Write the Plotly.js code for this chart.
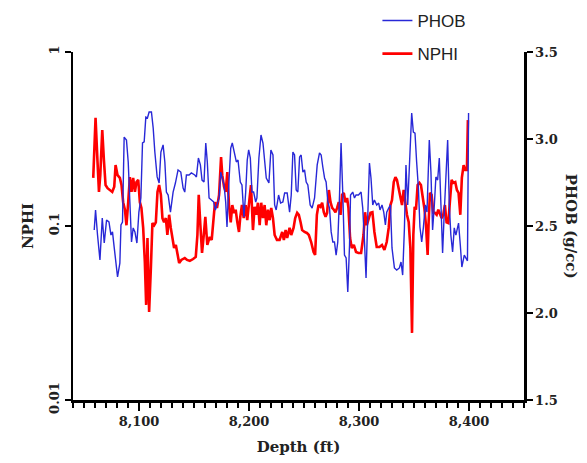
<!DOCTYPE html>
<html>
<head>
<meta charset="utf-8">
<script src="https://cdn.plot.ly/plotly-3.0.1.min.js"></script>
<style>html,body{margin:0;padding:0;background:#fff;}#chart{width:587px;height:463px;}</style>
</head>
<body>
<div id="chart"></div>
<script>
// PHOB (g/cc) series: depth (ft) and bulk density
var phobDepth = [8059.3,8060.5,8062.3,8064.5,8066.6,8068.4,8070.5,8072.7,8074.5,8075.9,8077.5,8080.5,8082.6,8083.6,8085.0,8086.5,8088.6,8090.2,8091.7,8093.2,8094.7,8096.3,8098.1,8099.9,8101.7,8103.2,8104.7,8106.2,8107.7,8109.2,8111.3,8112.9,8114.4,8116.5,8118.3,8119.9,8121.9,8123.5,8124.9,8126.5,8128.6,8131.0,8133.1,8135.5,8138.0,8140.1,8141.6,8143.1,8145.5,8147.6,8150.7,8152.2,8154.0,8155.8,8157.3,8159.1,8160.7,8162.1,8163.7,8165.8,8167.9,8169.4,8171.2,8172.8,8174.3,8175.7,8177.3,8178.8,8180.0,8181.6,8183.4,8184.8,8186.4,8188.5,8190.0,8192.1,8193.6,8195.4,8197.0,8198.4,8199.7,8201.2,8202.7,8204.2,8206.1,8207.2,8209.0,8210.9,8212.7,8214.2,8215.7,8218.1,8219.9,8221.8,8223.3,8224.7,8226.9,8228.7,8230.8,8232.4,8234.7,8236.9,8238.4,8239.9,8241.4,8242.9,8244.4,8246.0,8247.4,8249.0,8250.5,8252.0,8253.5,8255.6,8257.4,8259.6,8262.0,8264.1,8265.6,8267.1,8268.7,8270.1,8271.7,8273.2,8274.7,8276.2,8277.7,8279.2,8280.7,8282.3,8283.7,8285.3,8286.8,8288.3,8289.8,8291.4,8292.3,8294.3,8295.9,8297.3,8299.5,8301.9,8303.4,8305.0,8306.4,8308.0,8309.5,8310.9,8312.5,8314.0,8316.1,8317.9,8319.1,8320.9,8322.5,8324.0,8325.2,8327.0,8328.6,8330.0,8332.2,8334.3,8336.7,8338.2,8339.7,8341.3,8342.7,8344.3,8345.8,8347.9,8349.4,8350.9,8352.4,8354.0,8355.4,8357.0,8358.5,8360.3,8361.8,8363.9,8365.4,8366.9,8368.5,8369.9,8371.5,8373.0,8374.5,8376.0,8377.6,8379.0,8380.6,8382.1,8383.5,8385.1,8386.6,8388.1,8390.5,8392.1,8393.5,8395.7,8397.2,8398.6,8399.6];
var phobValues = [2.477,2.592,2.448,2.305,2.546,2.402,2.534,2.523,2.448,2.466,2.374,2.207,2.287,2.506,2.523,3.011,2.994,2.868,2.638,2.408,2.489,2.466,2.402,2.580,2.661,2.977,2.983,3.126,3.121,3.155,3.155,3.063,2.925,2.782,2.747,2.925,2.966,2.868,2.695,2.678,2.580,2.695,2.747,2.822,2.810,2.718,2.695,2.793,2.793,2.805,2.793,2.782,2.891,2.851,2.764,2.753,2.977,2.868,2.661,2.649,2.638,2.592,2.638,2.661,2.810,2.782,2.736,2.638,2.494,2.736,2.948,2.977,2.925,2.868,2.879,2.753,2.736,2.552,2.695,2.879,2.937,2.891,2.695,2.695,2.638,2.661,2.891,3.023,2.977,2.868,2.776,2.747,2.937,2.908,2.621,2.592,2.678,2.632,2.638,2.690,2.690,2.580,2.678,2.925,2.908,2.707,2.695,2.897,2.908,2.810,2.822,2.753,2.736,2.621,2.603,2.661,2.851,2.920,2.908,2.839,2.776,2.753,2.638,2.603,2.466,2.408,2.408,2.333,2.408,2.678,2.977,2.678,2.333,2.316,2.121,2.391,2.678,2.695,2.661,2.678,2.678,2.695,2.603,2.408,2.201,2.563,2.862,2.776,2.621,2.649,2.621,2.632,2.592,2.621,2.580,2.506,2.580,2.603,2.621,2.374,2.259,2.247,2.259,2.293,2.218,2.489,2.851,2.621,2.868,3.149,3.040,3.034,2.868,2.718,2.494,2.408,2.489,2.621,2.580,2.994,2.810,2.477,2.621,2.782,2.764,2.891,2.621,2.345,2.592,2.793,2.994,2.621,2.448,2.351,2.489,2.448,2.517,2.391,2.264,2.333,2.316,2.300,3.150];

// NPHI (fraction) series: depth (ft) and neutron porosity
var nphiDepth = [8058.4,8060.5,8062.3,8063.6,8064.8,8066.6,8068.1,8069.6,8071.4,8073.6,8075.7,8077.5,8078.7,8080.5,8082.6,8084.1,8085.6,8087.2,8088.6,8090.2,8091.7,8093.2,8094.7,8096.3,8097.7,8099.3,8100.8,8102.2,8103.8,8105.3,8106.5,8107.7,8109.2,8110.8,8112.2,8113.8,8115.3,8116.8,8118.3,8119.9,8121.3,8122.8,8124.4,8125.8,8127.4,8128.9,8130.4,8131.9,8133.5,8134.9,8136.5,8138.5,8141.6,8143.7,8146.2,8149.2,8151.6,8153.1,8154.3,8155.8,8157.3,8158.9,8160.3,8162.1,8164.3,8166.1,8167.9,8169.1,8170.9,8172.8,8174.6,8175.7,8177.3,8178.8,8180.3,8181.8,8183.4,8184.8,8186.4,8187.9,8189.4,8190.9,8192.1,8193.6,8195.2,8197.0,8198.4,8200.0,8201.8,8203.6,8205.1,8206.6,8208.1,8209.7,8211.1,8212.7,8214.2,8215.7,8217.2,8218.8,8220.2,8221.8,8223.3,8225.4,8227.8,8230.2,8231.7,8233.3,8234.7,8236.9,8238.4,8240.5,8242.0,8243.8,8245.3,8246.9,8248.3,8250.5,8252.6,8254.4,8256.5,8258.7,8260.1,8261.7,8263.2,8265.0,8266.5,8268.0,8269.6,8271.0,8272.6,8274.1,8275.6,8277.1,8278.6,8280.1,8281.6,8283.2,8284.6,8286.2,8287.7,8289.2,8290.4,8291.9,8293.4,8295.3,8297.3,8299.5,8301.9,8304.1,8305.5,8307.1,8308.6,8310.4,8312.2,8314.0,8316.1,8318.6,8320.9,8323.1,8325.2,8327.0,8328.6,8330.0,8331.6,8333.1,8334.5,8336.1,8337.6,8339.1,8340.6,8342.2,8343.6,8345.2,8346.7,8348.2,8349.4,8350.6,8351.8,8353.3,8354.9,8356.3,8357.9,8359.4,8360.9,8362.4,8363.3,8364.5,8366.0,8367.6,8369.0,8370.6,8372.1,8373.6,8375.1,8376.6,8378.1,8379.6,8381.2,8382.6,8384.2,8385.7,8387.5,8389.0,8390.5,8392.1,8393.5,8395.1,8396.6,8398.1,8399.0];
var nphiValues = [0.189,0.418,0.233,0.157,0.196,0.356,0.239,0.172,0.165,0.161,0.157,0.168,0.224,0.196,0.189,0.172,0.137,0.124,0.101,0.137,0.191,0.157,0.189,0.157,0.179,0.184,0.137,0.127,0.0975,0.0621,0.0352,0.0853,0.0321,0.0574,0.104,0.101,0.105,0.157,0.172,0.151,0.111,0.105,0.111,0.0888,0.116,0.0975,0.0853,0.0748,0.0778,0.0681,0.0613,0.0638,0.0655,0.0638,0.0630,0.0646,0.0664,0.0888,0.151,0.101,0.0700,0.0888,0.113,0.0778,0.0865,0.0832,0.116,0.137,0.127,0.151,0.249,0.196,0.168,0.157,0.204,0.132,0.105,0.132,0.119,0.124,0.105,0.0924,0.113,0.132,0.111,0.132,0.108,0.132,0.172,0.0948,0.129,0.116,0.136,0.101,0.136,0.111,0.132,0.101,0.124,0.108,0.127,0.111,0.0888,0.0832,0.0832,0.0924,0.0832,0.0948,0.0853,0.0975,0.0888,0.0975,0.111,0.119,0.116,0.105,0.0948,0.0924,0.0912,0.0888,0.0809,0.0709,0.0681,0.116,0.132,0.129,0.136,0.120,0.113,0.119,0.161,0.137,0.127,0.124,0.120,0.127,0.137,0.116,0.151,0.155,0.137,0.145,0.127,0.0853,0.0748,0.0778,0.0709,0.0700,0.0700,0.0888,0.120,0.101,0.111,0.119,0.120,0.0924,0.0757,0.0757,0.0778,0.0728,0.0809,0.0975,0.132,0.141,0.179,0.191,0.184,0.165,0.151,0.132,0.161,0.132,0.116,0.105,0.0748,0.0243,0.0888,0.129,0.124,0.172,0.177,0.172,0.151,0.127,0.101,0.0681,0.105,0.155,0.151,0.119,0.119,0.116,0.124,0.116,0.111,0.116,0.132,0.105,0.104,0.137,0.184,0.177,0.179,0.161,0.155,0.116,0.189,0.224,0.210,0.210,0.406];

// Axis tick labels
var depthTicks = [8100, 8200, 8300, 8400];
var depthTickText = ['8,100', '8,200', '8,300', '8,400'];
var nphiTicks = [0.01, 0.1, 1];
var nphiTickText = ['0.01', '0.1', '1'];
var phobTicks = [1.5, 2.0, 2.5, 3.0, 3.5];
var phobTickText = ['1.5', '2.0', '2.5', '3.0', '3.5'];

var serif = 'DejaVu Serif';
var traces = [
  {
    x: phobDepth, y: phobValues, name: 'PHOB', yaxis: 'y2', type: 'scatter', mode: 'lines',
    line: {color: 'rgb(40,40,215)', width: 1.4}, legendgroup: 'a'
  },
  {
    x: nphiDepth, y: nphiValues, name: 'NPHI', yaxis: 'y', type: 'scatter', mode: 'lines',
    line: {color: 'rgb(255,0,0)', width: 2.6}, legendgroup: 'b'
  }
];

var layout = {
  width: 587, height: 463,
  margin: {l: 73, r: 63, t: 52, b: 63, pad: 0, autoexpand: false},
  paper_bgcolor: '#fff', plot_bgcolor: '#fff',
  showlegend: true,
  legend: {
    x: 0.675, y: 1.141, xanchor: 'left', yanchor: 'top',
    font: {family: 'Liberation Sans', size: 17, color: '#222'},
    traceorder: 'grouped', tracegroupgap: 8, itemwidth: 30, bgcolor: 'rgba(0,0,0,0)'
  },
  xaxis: {
    range: [8040, 8450], tickvals: depthTicks, ticktext: depthTickText,
    showline: true, linecolor: '#000', linewidth: 2.5, mirror: false,
    ticks: 'outside', ticklen: 8, tickwidth: 2.5, tickcolor: '#000',
    minor: {dtick: 10, tick0: 8040, ticks: 'outside', ticklen: 5, tickwidth: 2, tickcolor: '#000'},
    showgrid: false, zeroline: false,
    tickfont: {family: serif, size: 13, color: '#222', weight: 'bold'},
    title: {text: 'Depth (ft)', font: {family: serif, size: 15, color: '#222', weight: 'bold'}, standoff: 14},
    automargin: false
  },
  yaxis: {
    type: 'log', range: [-2, 0], tickvals: nphiTicks, ticktext: nphiTickText, tickangle: -90,
    showline: true, linecolor: '#000', linewidth: 2.5,
    ticks: 'outside', ticklen: 6, tickwidth: 2.5, tickcolor: '#000',
    showgrid: false, zeroline: false,
    tickfont: {family: serif, size: 13, color: '#222', weight: 'bold'},
    title: {text: 'NPHI', font: {family: serif, size: 15, color: '#222', weight: 'bold'}, standoff: 10},
    automargin: false
  },
  yaxis2: {
    overlaying: 'y', side: 'right', range: [1.5, 3.5], tickvals: phobTicks, ticktext: phobTickText,
    showline: true, linecolor: '#000', linewidth: 2.5,
    ticks: 'outside', ticklen: 6, tickwidth: 2.5, tickcolor: '#000',
    showgrid: false, zeroline: false,
    tickfont: {family: serif, size: 13, color: '#222', weight: 'bold'},
    automargin: false
  },
  annotations: [{
    text: 'PHOB (g/cc)', xref: 'paper', yref: 'paper', x: 1.105, y: 0.5,
    xanchor: 'center', yanchor: 'middle', textangle: 90, showarrow: false,
    font: {family: serif, size: 15, color: '#222', weight: 'bold'}
  }]
};

Plotly.newPlot('chart', traces, layout, {displayModeBar: false, staticPlot: true});
</script>
</body>
</html>
